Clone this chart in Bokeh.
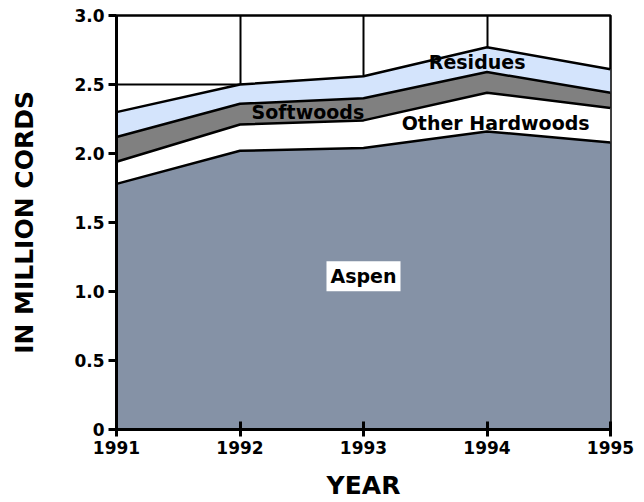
from bokeh.plotting import figure
from bokeh.models import FixedTicker, Label, Range1d
from bokeh.embed import file_html
from bokeh.resources import INLINE

years = [1991, 1992, 1993, 1994, 1995]
aspen = [1.78, 2.02, 2.04, 2.16, 2.08]
other_hardwoods = [0.16, 0.19, 0.20, 0.28, 0.25]
softwoods = [0.18, 0.15, 0.16, 0.15, 0.11]
residues = [0.18, 0.14, 0.16, 0.18, 0.17]

series_names = ["Aspen", "Other Hardwoods", "Softwoods", "Residues"]
series_colors = ["#8592A6", "#FFFFFF", "#808080", "#D4E4FC"]
y_ticks = [0, 0.5, 1.0, 1.5, 2.0, 2.5, 3.0]
y_tick_labels = ["0", "0.5", "1.0", "1.5", "2.0", "2.5", "3.0"]

FONT = "DejaVu Sans"

p = figure(width=636, height=502, output_backend="svg", toolbar_location=None,
           x_range=Range1d(1991, 1995), y_range=Range1d(0, 3.0),
           min_border_left=116, min_border_right=26, min_border_top=15, min_border_bottom=73)

data = dict(x=years, aspen=aspen, oh=other_hardwoods, soft=softwoods, res=residues)
keys = ["aspen", "oh", "soft", "res"]
p.varea_stack(stackers=keys, x="x", source=data, color=series_colors)

# boundaries
cum = [0.0] * len(years)
for vals in [aspen, other_hardwoods, softwoods, residues]:
    cum = [c + v for c, v in zip(cum, vals)]
    p.line(years, list(cum), line_color="black", line_width=2.5)

p.xgrid.ticker = FixedTicker(ticks=years)
p.ygrid.ticker = FixedTicker(ticks=y_ticks)
for g in (p.xgrid[0], p.ygrid[0]):
    g.grid_line_color = "black"
    g.grid_line_width = 2
    g.grid_line_alpha = 1.0

p.outline_line_color = "black"
p.outline_line_width = 2.5
p.outline_line_alpha = 1.0
p.background_fill_color = "white"

xa = p.xaxis[0]
xa.ticker = FixedTicker(ticks=years)
xa.major_label_overrides = {y: str(y) for y in years}
xa.axis_label = "YEAR"
ya = p.yaxis[0]
ya.ticker = FixedTicker(ticks=y_ticks)
ya.major_label_overrides = {t: l for t, l in zip(y_ticks, y_tick_labels)}
ya.axis_label = "IN MILLION CORDS"

for ax in (xa, ya):
    ax.axis_line_color = "black"
    ax.axis_line_width = 3
    ax.major_tick_line_color = "black"
    ax.major_tick_line_width = 3
    ax.minor_tick_line_color = None
    ax.major_label_text_font = FONT
    ax.major_label_text_font_style = "bold"
    ax.major_label_text_font_size = "17px"
    ax.major_label_text_color = "black"
    ax.axis_label_text_font = FONT
    ax.axis_label_text_font_style = "bold"
    ax.axis_label_text_font_size = "25px"
    ax.axis_label_text_color = "black"

xa.major_tick_in = 8
xa.major_tick_out = 7
xa.major_label_standoff = 4
xa.axis_label_standoff = 14
ya.major_tick_in = 0
ya.major_tick_out = 8
ya.major_label_standoff = 4
ya.axis_label_standoff = 32

label_specs = [
    ("Aspen", 1993.0, 1.11, "white"),
    ("Other Hardwoods", 1994.07, 2.22, None),
    ("Softwoods", 1992.55, 2.30, None),
    ("Residues", 1993.92, 2.66, None),
]
for txt, lx, ly, bg in label_specs:
    lab = Label(x=lx, y=ly, text=txt, text_font=FONT, text_font_style="bold",
                text_font_size="19px", text_color="black", text_align="center",
                text_baseline="middle")
    if bg:
        lab.background_fill_color = bg
        lab.padding = 4
    p.add_layout(lab)

open("out.html", "w").write(file_html(p, INLINE))
